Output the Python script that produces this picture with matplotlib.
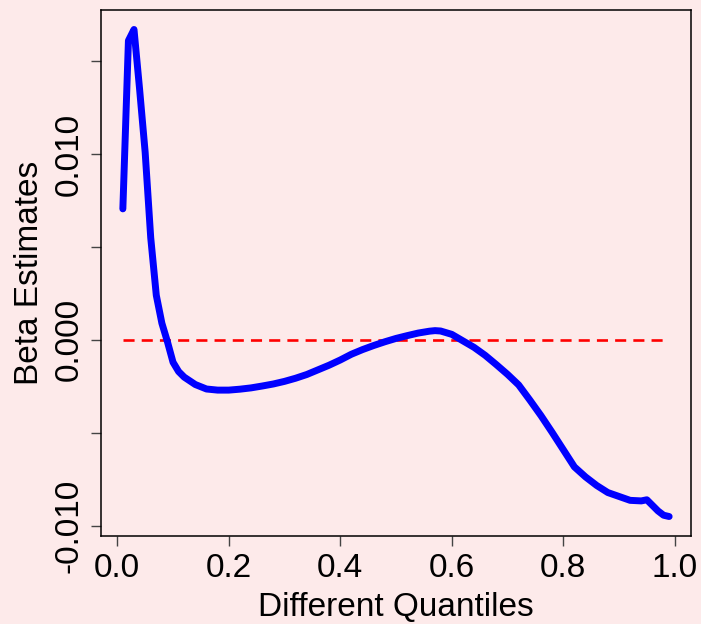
import numpy as np
import matplotlib.pyplot as plt

plt.rcParams["font.family"] = ["Liberation Sans", "DejaVu Sans"]

# quantile regression slope estimates across quantiles
quantiles = [0.01, 0.02, 0.03, 0.04, 0.05, 0.06, 0.07, 0.08, 0.09, 0.10,
             0.11, 0.12, 0.14, 0.16, 0.18, 0.20, 0.22, 0.24, 0.26, 0.28,
             0.30, 0.32, 0.34, 0.36, 0.38, 0.40, 0.42, 0.44, 0.46, 0.48,
             0.50, 0.52, 0.54, 0.56, 0.57, 0.58, 0.60, 0.62, 0.64, 0.66,
             0.68, 0.70, 0.72, 0.74, 0.76, 0.78, 0.80, 0.82, 0.84, 0.86,
             0.88, 0.90, 0.92, 0.94, 0.95, 0.96, 0.97, 0.98, 0.99]
beta = [0.00705, 0.0161, 0.0167, 0.0135, 0.0101, 0.0055, 0.0024, 0.0009, -0.0001, -0.0012,
        -0.0017, -0.0020, -0.0024, -0.00264, -0.0027, -0.0027, -0.00265, -0.00258, -0.00248, -0.00237,
        -0.00223, -0.00206, -0.00186, -0.00161, -0.00136, -0.00108, -0.00077, -0.00052, -0.0003, -0.0001,
        0.00008, 0.00023, 0.00037, 0.00047, 0.0005, 0.00048, 0.0003, -0.00005, -0.0004, -0.00083,
        -0.00133, -0.00185, -0.00242, -0.00323, -0.00407, -0.00497, -0.0059, -0.00683, -0.00737, -0.00783,
        -0.00821, -0.00842, -0.00863, -0.00866, -0.0086, -0.0089, -0.0092, -0.00943, -0.0095]

x_ticks = [0.0, 0.2, 0.4, 0.6, 0.8, 1.0]
x_ticklabels = ["0.0", "0.2", "0.4", "0.6", "0.8", "1.0"]
y_ticks = [-0.010, -0.005, 0.000, 0.005, 0.010, 0.015]
y_ticklabels = ["-0.010", "", "0.000", "", "0.010", ""]

BG = "#fdeaea"
FS = 24

q = np.array(quantiles)
b = np.array(beta)

fig = plt.figure(figsize=(7.01, 6.24), dpi=100, facecolor=BG)
ax = fig.add_axes([101 / 701, 1 - 536 / 624, 590 / 701, 526 / 624], facecolor=BG)

ax.plot(q, b, color="#0000ff", lw=5, solid_capstyle="round", solid_joinstyle="round", zorder=3)
ax.plot([q.min(), q.max()], [0, 0], color="#ff0000", lw=1.9, dashes=(4.2, 2.7), zorder=2)

# R-style 4% padding around the data range
xr = q.max() - q.min()
yr = b.max() - b.min()
ax.set_xlim(q.min() - 0.04 * xr, q.max() + 0.04 * xr)
ax.set_ylim(b.min() - 0.04 * yr, b.max() + 0.04 * yr)

ax.set_xticks(x_ticks)
ax.set_xticklabels(x_ticklabels, fontsize=FS)
ax.set_yticks(y_ticks)
ax.set_yticklabels(y_ticklabels, fontsize=FS, rotation=90, va="center")
ax.tick_params(axis="both", direction="out", length=7, width=1, color="#444444", pad=5)

for s in ax.spines.values():
    s.set_color("black")
    s.set_linewidth(1.1)

fig.text(395.8 / 701, 1 - 616 / 624, "Different Quantiles", fontsize=FS,
         ha="center", va="baseline")
fig.text(38 / 701, 1 - 273 / 624, "Beta Estimates", fontsize=FS, rotation=90,
         rotation_mode="anchor", ha="center", va="baseline")

fig.savefig("out.png", dpi=100, facecolor=BG)
